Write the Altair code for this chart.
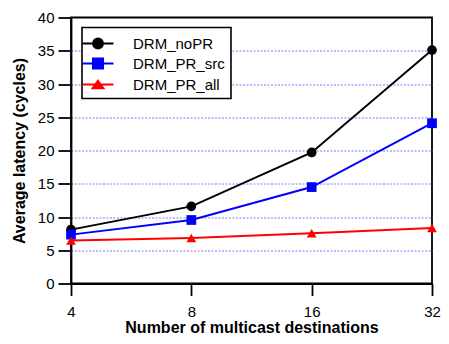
import altair as alt
import pandas as pd

destinations = ["4", "8", "16", "32"]
series_names = ["DRM_noPR", "DRM_PR_src", "DRM_PR_all"]
drm_nopr = [8.1, 11.6, 19.7, 35.1]
drm_pr_src = [7.35, 9.55, 14.5, 24.1]
drm_pr_all = [6.45, 6.85, 7.55, 8.35]
colors = ["#000000", "#0000ff", "#ff0000"]
marker_shapes = ["circle", "square", "triangle-up"]
legend_paths = [
    "M-1.72,0L1.72,0M0.55,0A0.55,0.55,0,1,1,-0.55,0A0.55,0.55,0,1,1,0.55,0Z",
    "M-1.72,0L1.72,0M-0.56,-0.56L0.56,-0.56L0.56,0.56L-0.56,0.56Z",
    "M-1.72,0L1.72,0M0,-0.42L0.6,0.42L-0.6,0.42Z",
]

rows = []
for name, vals in zip(series_names, [drm_nopr, drm_pr_src, drm_pr_all]):
    for d, v in zip(destinations, vals):
        rows.append({"dest": d, "latency": v, "series": name})
df = pd.DataFrame(rows)

x_enc = alt.X(
    "dest:O",
    sort=destinations,
    scale=alt.Scale(type="point", padding=0),
    axis=alt.Axis(
        title="Number of multicast destinations",
        labelAngle=0,
        tickSize=12,
        labelPadding=9,
        titlePadding=0,
        grid=False,
    ),
)
y_enc = alt.Y(
    "latency:Q",
    scale=alt.Scale(domain=[0, 40], nice=False),
    axis=alt.Axis(
        title="Average latency (cycles)",
        values=[0, 5, 10, 15, 20, 25, 30, 35, 40],
        tickSize=13,
        labelPadding=4,
        titlePadding=10,
        grid=True,
        gridColor="#7a7aff",
        gridDash=[2, 1.5],
        gridWidth=1,
        gridOpacity={"condition": {"test": "datum.value == 0 || datum.value == 40", "value": 0}, "value": 1},
    ),
)

base = alt.Chart(df)

layers = []
for name, col in zip(series_names, colors):
    layers.append(
        base.transform_filter(alt.datum.series == name)
        .mark_line(strokeWidth=2, color=col)
        .encode(x=x_enc, y=y_enc)
    )
for name, col, shp in zip(series_names, colors, marker_shapes):
    layers.append(
        base.transform_filter(alt.datum.series == name)
        .mark_point(filled=True, color=col, shape=shp, size=95, opacity=1)
        .encode(x=x_enc, y=y_enc)
    )

leg = dict(title=None, orient="none", legendX=11, legendY=10, symbolOpacity=1)
legend_layer = (
    base.mark_point(filled=True, strokeWidth=2, opacity=0, size=324)
    .encode(
        x=x_enc,
        y=y_enc,
        fill=alt.Fill("series:N", scale=alt.Scale(domain=series_names, range=colors),
                      legend=alt.Legend(**leg)),
        stroke=alt.Stroke("series:N", scale=alt.Scale(domain=series_names, range=colors),
                          legend=alt.Legend(**leg)),
        shape=alt.Shape("series:N", scale=alt.Scale(domain=series_names, range=legend_paths),
                        legend=alt.Legend(**leg)),
    )
)
layers.append(legend_layer)

chart = (
    alt.layer(*layers)
    .properties(
        width=361,
        height=266,
        autosize=alt.AutoSizeParams(type="none"),
        padding={"left": 63, "top": 9.5, "right": 9, "bottom": 52.5},
    )
    .configure_view(stroke="#000000", strokeWidth=1.8)
    .configure_axis(
        domainColor="#000000",
        domainWidth=1.8,
        tickColor="#000000",
        tickWidth=1.8,
        labelFont="Liberation Sans",
        labelFontSize=15,
        labelColor="#000000",
        titleFont="Liberation Sans",
        titleFontSize=16,
        titleFontWeight="bold",
        titleColor="#000000",
    )
    .configure_legend(
        labelFont="Liberation Sans",
        labelFontSize=15,
        labelColor="#000000",
        strokeColor="#000000",
        strokeWidth=1.6,
        padding=6,
        symbolSize=324,
        symbolStrokeWidth=2,
        labelOffset=25,
        rowPadding=1,
        fillColor="#ffffff",
    )
)

chart.save("out.html", embed_options={"renderer": "svg", "actions": False})
